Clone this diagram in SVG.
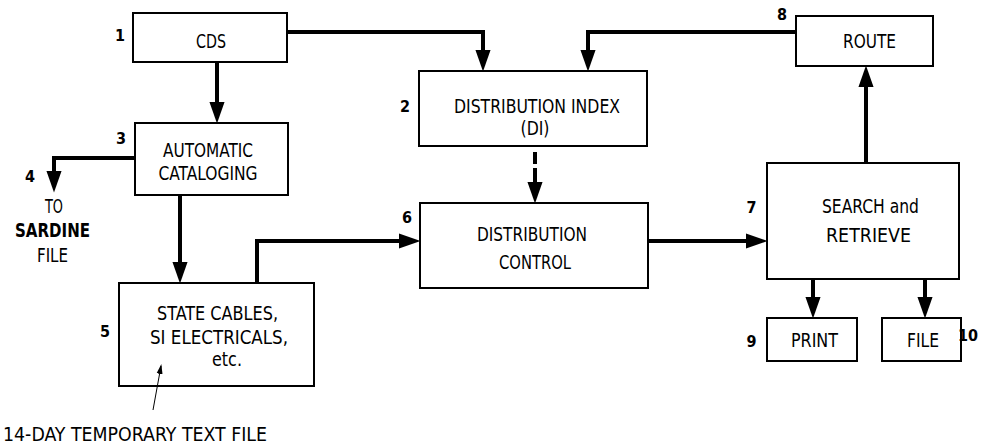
<svg xmlns="http://www.w3.org/2000/svg" width="984" height="446" viewBox="0 0 984 446">
<style>
.box{fill:none;stroke:#000;stroke-width:2}
.t{font-family:"Liberation Sans Narrow","DejaVu Sans Condensed","Liberation Sans",sans-serif;font-size:20px;fill:#000;text-anchor:middle}
.n{font-family:"Liberation Sans Narrow","DejaVu Sans Condensed","Liberation Sans",sans-serif;font-size:16px;font-weight:bold;fill:#000;text-anchor:middle}
.c{fill:none;stroke:#000;stroke-width:4;stroke-linecap:butt;stroke-linejoin:miter}
.thin{fill:none;stroke:#000;stroke-width:1}
</style>
<defs>
<marker id="ah" markerUnits="userSpaceOnUse" markerWidth="22" markerHeight="16" refX="14" refY="7" orient="auto" viewBox="0 0 20 14">
<path d="M0,0 L20,7 L0,14 z" fill="#000"/>
</marker>
<marker id="ahs" markerUnits="userSpaceOnUse" markerWidth="10" markerHeight="8" refX="8" refY="3" orient="auto" viewBox="0 0 10 6">
<path d="M0,0 L10,3 L0,6 z" fill="#000"/>
</marker>
</defs>
<g id="connectors">
<path class="c" d="M217,62 V117" marker-end="url(#ah)"/>
<path class="c" d="M287,32 H483 V65" marker-end="url(#ah)"/>
<path class="c" d="M796,32 H588 V65" marker-end="url(#ah)"/>
<path class="c" d="M135,158 H54 V186" marker-end="url(#ah)"/>
<path class="c" d="M180,195 V277" marker-end="url(#ah)"/>
<path class="c" d="M257,283 V241 H414" marker-end="url(#ah)"/>
<path class="c" d="M535,152 V164"/>
<path class="c" d="M535,168 V197" marker-end="url(#ah)"/>
<path class="c" d="M648,241 H761" marker-end="url(#ah)"/>
<path class="c" d="M866,163 V72" marker-end="url(#ah)"/>
<path class="c" d="M813,279 V312" marker-end="url(#ah)"/>
<path class="c" d="M925,279 V312" marker-end="url(#ah)"/>
<path class="thin" d="M153,410 L161,366" marker-end="url(#ahs)"/>
</g>
<g id="node1">
<rect class="box" x="133" y="13" width="154" height="49"/>
<text class="t" x="211" y="48" textLength="30" lengthAdjust="spacingAndGlyphs">CDS</text>
<text class="n" x="120" y="41">1</text>
</g>
<g id="node2">
<rect class="box" x="419" y="71" width="228" height="75"/>
<text class="t" x="537" y="113" textLength="166" lengthAdjust="spacingAndGlyphs">DISTRIBUTION INDEX</text>
<text class="t" x="535" y="135" textLength="29" lengthAdjust="spacingAndGlyphs">(DI)</text>
<text class="n" x="405" y="112">2</text>
</g>
<g id="node3">
<rect class="box" x="135" y="123" width="153" height="72"/>
<text class="t" x="208" y="157" textLength="90" lengthAdjust="spacingAndGlyphs">AUTOMATIC</text>
<text class="t" x="208" y="180" textLength="99" lengthAdjust="spacingAndGlyphs">CATALOGING</text>
<text class="n" x="121" y="144">3</text>
</g>
<g id="node4">
<text class="n" x="30" y="182">4</text>
<text class="t" x="54" y="213" textLength="18" lengthAdjust="spacingAndGlyphs">TO</text>
<text class="t" x="52.5" y="237" textLength="75" lengthAdjust="spacingAndGlyphs" font-weight="bold">SARDINE</text>
<text class="t" x="52.5" y="262" textLength="31" lengthAdjust="spacingAndGlyphs">FILE</text>
</g>
<g id="node5">
<rect class="box" x="119" y="283" width="195" height="103"/>
<text class="t" x="217.5" y="320" textLength="121" lengthAdjust="spacingAndGlyphs">STATE CABLES,</text>
<text class="t" x="219" y="344" textLength="138" lengthAdjust="spacingAndGlyphs">SI ELECTRICALS,</text>
<text class="t" x="227" y="366" textLength="30" lengthAdjust="spacingAndGlyphs" font-size="18">etc.</text>
<text class="n" x="105" y="337">5</text>
<text class="t" x="135" y="441" textLength="264" lengthAdjust="spacingAndGlyphs">14-DAY TEMPORARY TEXT FILE</text>
</g>
<g id="node6">
<rect class="box" x="420" y="203" width="228" height="85"/>
<text class="t" x="532" y="241" textLength="110" lengthAdjust="spacingAndGlyphs">DISTRIBUTION</text>
<text class="t" x="535" y="269" textLength="72" lengthAdjust="spacingAndGlyphs">CONTROL</text>
<text class="n" x="407" y="223">6</text>
</g>
<g id="node7">
<rect class="box" x="767" y="163" width="192" height="116"/>
<text class="t" x="870.5" y="213" textLength="97" lengthAdjust="spacingAndGlyphs">SEARCH and</text>
<text class="t" x="868.5" y="242" textLength="85" lengthAdjust="spacingAndGlyphs">RETRIEVE</text>
<text class="n" x="751.5" y="213">7</text>
</g>
<g id="node8">
<rect class="box" x="796" y="16" width="137" height="50"/>
<text class="t" x="869.5" y="48" textLength="53" lengthAdjust="spacingAndGlyphs">ROUTE</text>
<text class="n" x="782" y="20">8</text>
</g>
<g id="node9">
<rect class="box" x="767" y="318" width="90" height="43"/>
<text class="t" x="814.5" y="347" textLength="47" lengthAdjust="spacingAndGlyphs">PRINT</text>
<text class="n" x="751.5" y="347">9</text>
</g>
<g id="node10">
<rect class="box" x="882" y="318" width="79" height="43"/>
<text class="t" x="923" y="347" textLength="32" lengthAdjust="spacingAndGlyphs">FILE</text>
<text class="n" x="968" y="341" text-anchor="start">10</text>
</g>
</svg>
